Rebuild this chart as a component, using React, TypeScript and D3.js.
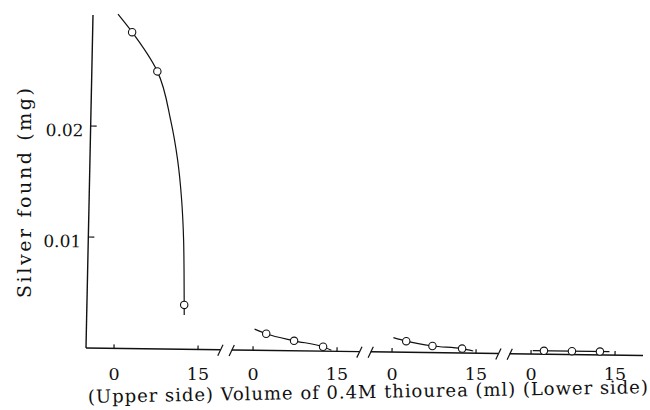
import React, { useEffect, useRef } from "react";
import * as d3 from "d3";

// axis ticks
const yTickValues = [0.01, 0.02];
const yTickLabels = ["0.01", "0.02"];
const xTickValues = [0, 15];
const xTickLabels = ["0", "15"];

// segment 1 (upper side): measured points + drawn curve
const upperX = [2.05, 6.7, 12.37];
const upperY = [0.0285, 0.025, 0.004];
const upperCurveX = [-0.54, 2.05, 6.7, 9.27, 10.65, 11.52, 12.02, 12.21, 12.37, 12.41];
const upperCurveY = [0.0301, 0.0285, 0.025, 0.0206, 0.01705, 0.01345, 0.00985, 0.00714, 0.004, 0.0031];

// segment 2
const seg2X = [2.3, 7.3, 12.5];
const seg2Y = [0.0015, 0.0009, 0.0004];
const seg2LineX = [0.2, 2.3, 7.3, 12.5, 14.0];
const seg2LineY = [0.0019, 0.0015, 0.0009, 0.0004, 0.0001];

// segment 3
const seg3X = [2.5, 7.2, 12.5];
const seg3Y = [0.001, 0.0006, 0.0004];
const seg3LineX = [0.2, 2.5, 7.2, 12.5, 14.5];
const seg3LineY = [0.0013, 0.001, 0.0006, 0.0004, 0.0002];

// segment 4 (lower side)
const seg4X = [2.3, 7.3, 12.3];
const seg4Y = [0.0003, 0.0003, 0.0003];
const seg4LineX = [0.3, 14.0];
const seg4LineY = [0.0003, 0.0003];

const yLabel = "Silver found (mg)";
const xLabel = "(Upper side) Volume of 0.4M thiourea (ml) (Lower side)";

const zip = (xs: number[], ys: number[]) => xs.map((x, i) => [x, ys[i]] as [number, number]);

const segments = [
  { points: zip(upperX, upperY), line: zip(upperCurveX, upperCurveY), curve: d3.curveMonotoneY },
  { points: zip(seg2X, seg2Y), line: zip(seg2LineX, seg2LineY), curve: d3.curveMonotoneX },
  { points: zip(seg3X, seg3Y), line: zip(seg3LineX, seg3LineY), curve: d3.curveMonotoneX },
  { points: zip(seg4X, seg4Y), line: zip(seg4LineX, seg4LineY), curve: d3.curveLinear },
];

const W = 650;
const H = 410;
const FONT = "'DejaVu Serif', 'Liberation Serif', serif";

const App = () => {
  const svgRef = useRef<SVGSVGElement>(null);

  useEffect(() => {
    const svg = d3.select(svgRef.current);
    svg.selectAll("*").remove();

    const axisX = 86;
    const baseY = 348;
    const y = d3.scaleLinear().domain([0, 0.03]).range([baseY, 15]);

    // one x scale per broken segment
    const segStart = 114;
    const segStep = 139;
    const xs = segments.map((_, i) =>
      d3.scaleLinear().domain([0, 15]).range([segStart + i * segStep, segStart + i * segStep + 84]),
    );

    // scanned figure is slightly skewed
    const sx = 0.021;
    const sy = 0.0134;
    const g = svg
      .append("g")
      .attr("transform", `matrix(1,${sy},${-sx},1,${sx * baseY},${-sy * axisX})`)
      .attr("fill", "none")
      .attr("stroke", "#111");

    // y axis
    g.append("line")
      .attr("x1", axisX)
      .attr("x2", axisX)
      .attr("y1", y(0))
      .attr("y2", y(0.03))
      .attr("stroke-width", 1.4);
    yTickValues.forEach((v, i) => {
      g.append("line")
        .attr("x1", axisX)
        .attr("x2", axisX + 6)
        .attr("y1", y(v))
        .attr("y2", y(v))
        .attr("stroke-width", 1.2);
      g.append("text")
        .attr("x", axisX - 7)
        .attr("y", y(v) + 10.5)
        .attr("text-anchor", "end")
        .attr("stroke", "none")
        .attr("fill", "#111")
        .attr("font-family", FONT)
        .attr("font-size", 17)
        .text(yTickLabels[i]);
    });

    // broken x axis
    xs.forEach((x, i) => {
      const start = i === 0 ? -5 : -3.8;
      const end = i === xs.length - 1 ? 20 : 19;
      g.append("line")
        .attr("x1", x(start))
        .attr("x2", x(end))
        .attr("y1", baseY)
        .attr("y2", baseY)
        .attr("stroke-width", 1.4);
      xTickValues.forEach(v => {
        g.append("line")
          .attr("x1", x(v))
          .attr("x2", x(v))
          .attr("y1", baseY)
          .attr("y2", baseY - 4)
          .attr("stroke-width", 1.2);
      });
      // break marks
      const slashes: number[] = [];
      if (i > 0) slashes.push(x(start));
      if (i < xs.length - 1) slashes.push(x(end));
      slashes.forEach(px => {
        g.append("line")
          .attr("x1", px - 2.5)
          .attr("x2", px + 2.5)
          .attr("y1", baseY + 6)
          .attr("y2", baseY - 5)
          .attr("stroke-width", 1.2);
      });

      const seg = segments[i];
      const line = d3
        .line<[number, number]>()
        .curve(seg.curve)
        .x(d => x(d[0]))
        .y(d => y(d[1]));
      g.append("path").attr("d", line(seg.line)).attr("stroke-width", 1.2);
      g.selectAll(null)
        .data(seg.points)
        .enter()
        .append("circle")
        .attr("cx", d => x(d[0]))
        .attr("cy", d => y(d[1]))
        .attr("r", 3.7)
        .attr("fill", "#fff")
        .attr("stroke-width", 1.1);

      // tick labels stay level
      xTickValues.forEach((v, j) => {
        svg
          .append("text")
          .attr("x", x(v))
          .attr("y", 380)
          .attr("text-anchor", "middle")
          .attr("fill", "#111")
          .attr("font-family", FONT)
          .attr("font-size", 17.5)
          .text(xTickLabels[j]);
      });
    });

    svg
      .append("text")
      .attr("transform", "translate(31,193) rotate(-90)")
      .attr("text-anchor", "middle")
      .attr("fill", "#111")
      .attr("font-family", FONT)
      .attr("font-size", 19)
      .attr("textLength", 210)
      .attr("lengthAdjust", "spacing")
      .text(yLabel);

    svg
      .append("text")
      .attr("x", 368)
      .attr("y", 398)
      .attr("transform", "rotate(-1,368,398)")
      .attr("text-anchor", "middle")
      .attr("fill", "#111")
      .attr("font-family", FONT)
      .attr("font-size", 18)
      .attr("textLength", 560)
      .attr("lengthAdjust", "spacing")
      .text(xLabel);
  }, []);

  return (
    <svg
      ref={svgRef}
      width={W}
      height={H}
      style={{ position: "absolute", left: 0, top: 0, background: "#fff" }}
    />
  );
};

export default App;
